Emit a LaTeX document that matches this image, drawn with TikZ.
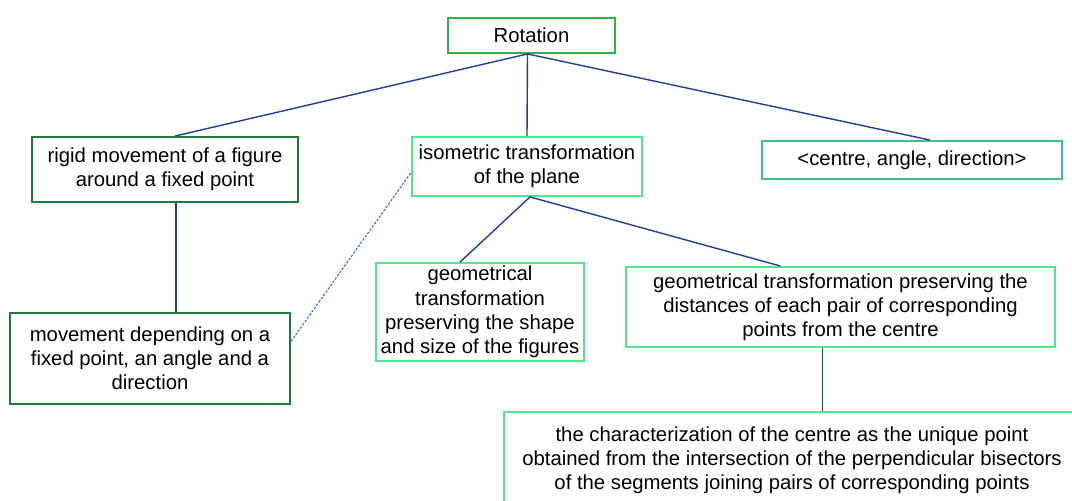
\documentclass[tikz,border=0pt]{standalone}
\usepackage{fontspec}
\setmainfont{Liberation Sans}
\definecolor{gmid}{HTML}{2DB34A}
\definecolor{gdark}{HTML}{1F7A3C}
\definecolor{glight}{HTML}{4DE88A}
\definecolor{gteal}{HTML}{3CC090}
\definecolor{lblue}{HTML}{1F3F9F}
\definecolor{dblue}{HTML}{2F5FEF}
\begin{document}
\begin{tikzpicture}[x=1pt,y=-1pt,
  box/.style={draw, line width=1.9pt, rectangle, align=center, inner sep=0pt,
    font=\fontsize{20.3}{24.2}\selectfont},
  link/.style={draw=lblue, line width=1.4pt},
  dlink/.style={draw=dblue, line width=1pt, dash pattern=on 2.5pt off 1.5pt}]
\useasboundingbox[fill=white] (0,0) rectangle (1072,501);
\node[box, draw=gmid, minimum width=167pt, minimum height=35pt] (rot) at (531.5,35.5) {Rotation};
\node[box, draw=gdark, minimum width=266pt, minimum height=65pt] (rigid) at (165,169.5) {rigid movement of a figure\\around a fixed point};
\node[box, draw=glight, minimum width=230pt, minimum height=59pt] (iso) at (527,166.5) {isometric transformation\\of the plane};
\node[box, draw=gteal, minimum width=300pt, minimum height=38pt] (cad) at (912,160) {<centre, angle, direction>};
\node[box, draw=gdark, minimum width=280pt, minimum height=91pt] (mov) at (150,358.5) {movement depending on a\\fixed point, an angle and a\\direction};
\node[box, draw=glight, minimum width=208pt, minimum height=98pt] (gshape) at (480,312) {geometrical\\transformation\\preserving the shape\\and size of the figures};
\node[box, draw=glight, minimum width=429pt, minimum height=80pt] (gdist) at (840.5,307) {geometrical transformation preserving the\\distances of each pair of corresponding\\points from the centre};
\node[box, draw=glight, minimum width=576pt, minimum height=96pt] (bot) at (792,460) {the characterization of the centre as the unique point\\obtained from the intersection of the perpendicular bisectors\\of the segments joining pairs of corresponding points};
\draw[link] ([xshift=-4pt]rot.south) -- ([xshift=10pt]rigid.north);
\draw[link] ([xshift=-4pt]rot.south) -- (iso.north);
\draw[link] ([xshift=-4pt]rot.south) -- ([xshift=18pt]cad.north);
\draw[link] ([xshift=11pt]rigid.south) -- ([xshift=11pt]rigid.south |- mov.north);
\draw[dlink] ([yshift=17pt]mov.east) -- ([yshift=-6pt]iso.west);
\draw[link] ([xshift=3pt]iso.south) -- ([xshift=-20pt]gshape.north);
\draw[link] ([xshift=3pt]iso.south) -- ([xshift=-60pt]gdist.north);
\draw[link] ([xshift=-18pt]gdist.south) -- ([xshift=-18pt]gdist.south |- bot.north);
\end{tikzpicture}
\end{document}
